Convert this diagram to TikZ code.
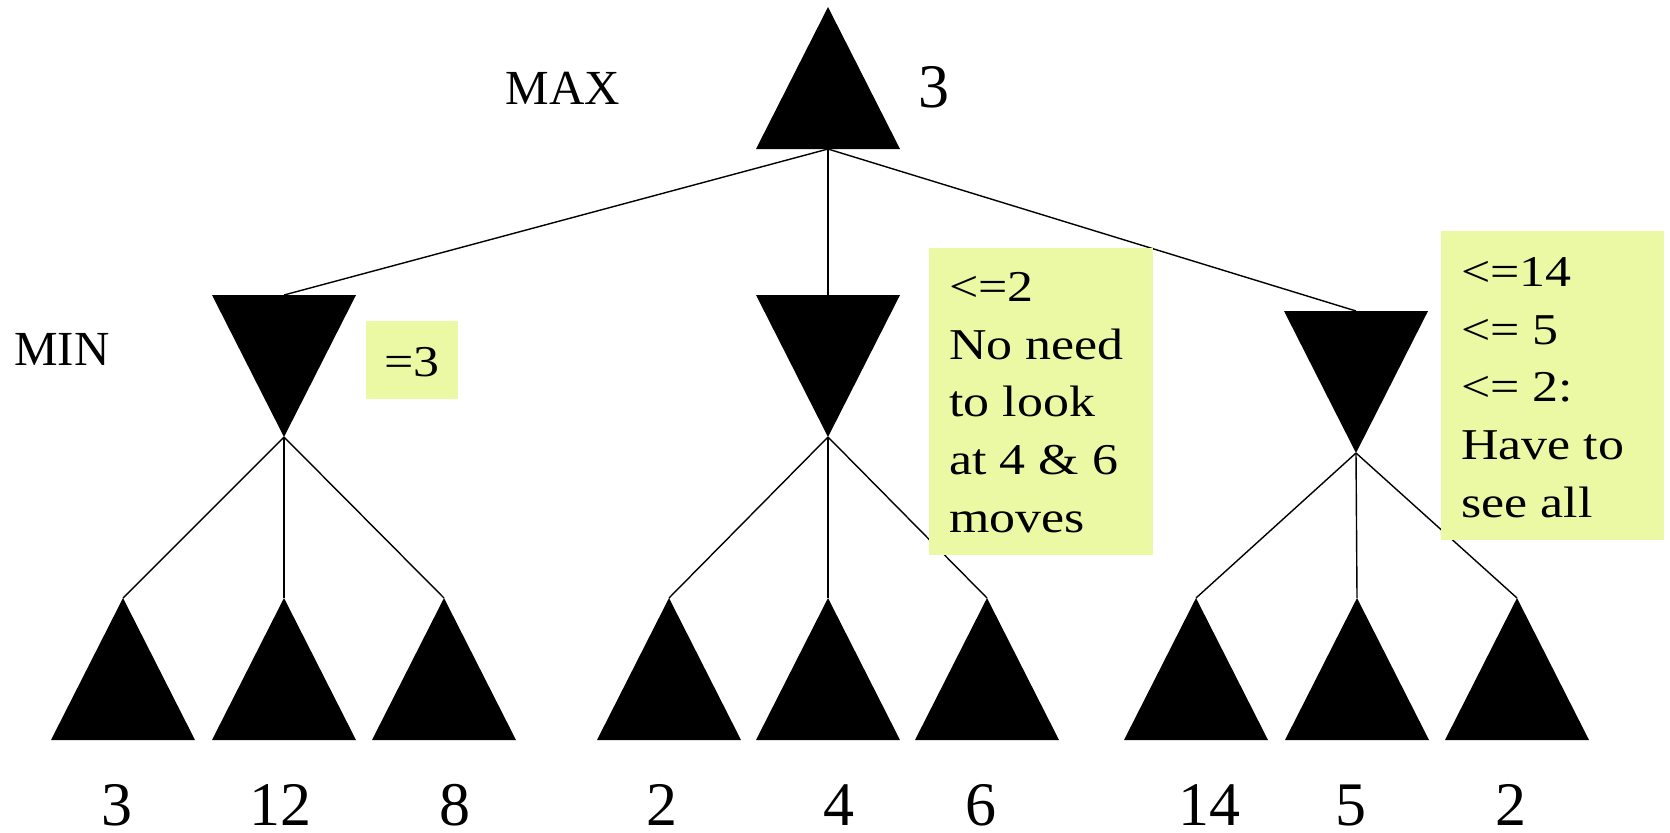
\documentclass[tikz,border=0pt]{standalone}
\usepackage{fontspec}
\setmainfont{Liberation Serif}
\newfontfamily\notefont[FakeStretch=1.18]{Liberation Serif}
\usetikzlibrary{shapes.geometric}
\definecolor{notebg}{RGB}{235,248,164}
\begin{document}
\begin{tikzpicture}[x=0.5pt,y=-0.5pt,
  tri/.style={isosceles triangle, isosceles triangle stretches, fill=black,
    draw=none, inner sep=0pt, outer sep=0pt,
    minimum width=72pt, minimum height=71pt, anchor=apex},
  maxtri/.style={tri, shape border rotate=90},
  mintri/.style={tri, shape border rotate=270},
  edge/.style={draw=black, line width=0.7pt},
  lvl/.style={font=\fontsize{24.5}{29}\selectfont, inner sep=0pt, anchor=base},
  val/.style={font=\fontsize{31}{37}\selectfont, inner sep=0pt, anchor=base},
  notebox/.style={fill=notebg, draw=none, inner sep=0pt, anchor=north west},
  notetext/.style={font={\notefont\fontsize{22}{28.8}\selectfont},
    inner sep=0pt, anchor=base west, align=left},
]
\useasboundingbox (0,0) rectangle (1670,832);

% root (MAX) and its value
\node[maxtri] (root) at (828,7) {};
\node[val] (rootv) at (934,107) {3};
\node[lvl] (maxl) at (563,104) {MAX};
\node[lvl] (minl) at (62,365) {MIN};

% MIN level
\node[mintri] (m1) at (284,437) {};
\node[mintri] (m2) at (828,437) {};
\node[mintri] (m3) at (1356,453) {};

% leaves
\node[maxtri] (a1) at (123,598) {};
\node[maxtri] (a2) at (284,598) {};
\node[maxtri] (a3) at (444,598) {};
\node[maxtri] (b1) at (669,598) {};
\node[maxtri] (b2) at (828,598) {};
\node[maxtri] (b3) at (987,598) {};
\node[maxtri] (c1) at (1196,598) {};
\node[maxtri] (c2) at (1357,598) {};
\node[maxtri] (c3) at (1517,598) {};

% leaf values
\node[val] (va1) at (117,825) {3};
\node[val] (va2) at (280,825) {12};
\node[val] (va3) at (455,825) {8};
\node[val] (vb1) at (662,825) {2};
\node[val] (vb2) at (839,825) {4};
\node[val] (vb3) at (981,825) {6};
\node[val] (vc1) at (1209,825) {14};
\node[val] (vc2) at (1351,825) {5};
\node[val] (vc3) at (1511,825) {2};

% connectors
\draw[edge] (root.lower side) -- (m1.lower side);
\draw[edge] (root.lower side) -- (m2.lower side);
\draw[edge] (root.lower side) -- (m3.lower side);
\foreach \p/\c in {m1/a1,m1/a2,m1/a3,m2/b1,m2/b2,m2/b3,m3/c1,m3/c2,m3/c3}
  \draw[edge] (\p.apex) -- (\c.apex);

% notes (multi-line text is anchored at the baseline of its last line)
\node[notebox, minimum width=46pt, minimum height=39pt] (n1) at (366,321) {};
\node[notetext, anchor=base] (n1t) at (412,376) {=3};

\node[notebox, minimum width=112pt, minimum height=153.5pt] (n2) at (929,248) {};
\node[notetext] (n2t) at (949,532) {<=2\\No need\\to look\\at 4 \& 6\\moves};

\node[notebox, minimum width=111.5pt, minimum height=154.5pt] (n3) at (1441,231) {};
\node[notetext] (n3t) at (1461,517) {<=14\\<= 5\\<= 2:\\Have to\\see all};
\end{tikzpicture}
\end{document}
